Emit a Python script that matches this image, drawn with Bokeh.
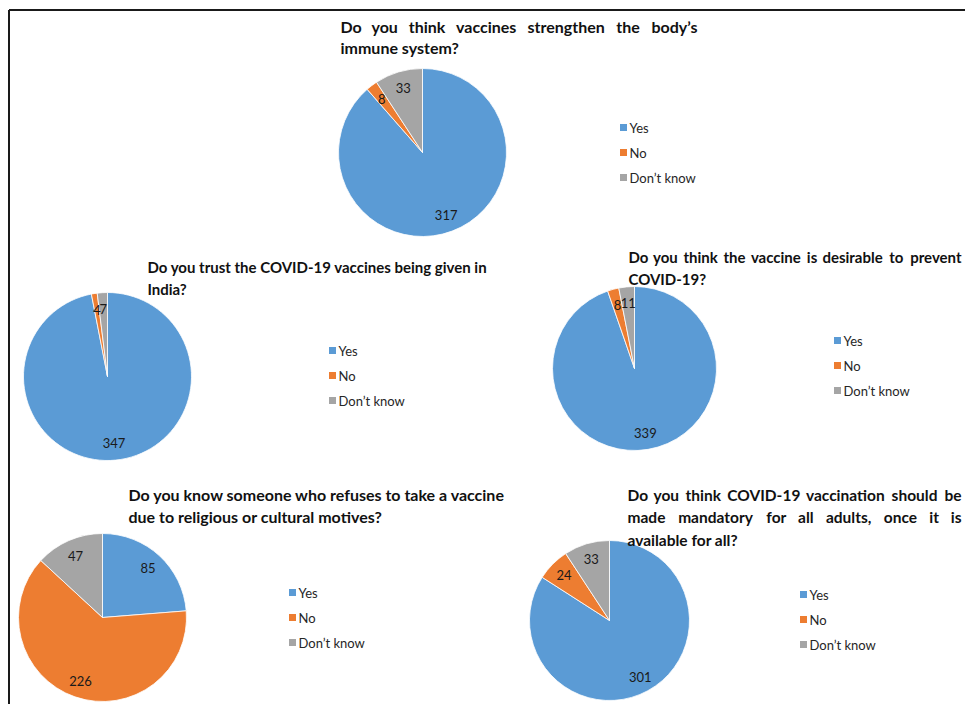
import math
from bokeh.plotting import figure
from bokeh.models import Range1d, ColumnDataSource
from bokeh.core.properties import value
from bokeh.embed import file_html
from bokeh.resources import INLINE

# ---------------- data ----------------
categories = ["Yes", "No", "Don\u2019t know"]

q1_values = [317, 8, 33]
q2_values = [347, 4, 7]
q3_values = [339, 8, 11]
q4_values = [85, 226, 47]
q5_values = [301, 24, 33]

q1_title = ["Do you think vaccines strengthen the body\u2019s", "immune system?"]
q2_title = ["Do you trust the COVID-19  vaccines being given in", "India?"]
q3_title = ["Do you think the vaccine is desirable to prevent", "COVID-19?"]
q4_title = ["Do you know someone who refuses to take a vaccine",
            "due to religious or cultural motives?"]
q5_title = ["Do you think COVID-19 vaccination should be",
            "made mandatory for all adults, once it is",
            "available for all?"]

all_values = [q1_values, q2_values, q3_values, q4_values, q5_values]
all_titles = [q1_title, q2_title, q3_title, q4_title, q5_title]

# ---------------- style / layout ----------------
COLORS = ["#5B9BD5", "#ED7D31", "#A5A5A5"]
W, H = 965, 704
FONT = "Lato"


def X(px):
    return px


def Y(py):
    return H - py


# page-pixel layout of each panel
LAYOUT = [
    dict(c=(422, 152), r=84, tx=340, ty=26, gap=21, tend=697, fs=16, leg=(623, 127)),
    dict(c=(107, 376), r=84, tx=147, ty=266, gap=22, tend=None, fs=15, leg=(332, 350)),
    dict(c=(634, 368), r=82, tx=628, ty=256, gap=22, tend=961, fs=15, leg=(837, 340)),
    dict(c=(102, 617), r=84, tx=128, ty=494, gap=22, tend=None, fs=16, leg=(292, 592)),
    dict(c=(609, 620), r=80, tx=627, ty=494, gap=22.5, tend=961, fs=15.5, leg=(803, 594)),
]
LEG_GAP = 25
JUSTIFIED = {(0, 0), (2, 0), (4, 0), (4, 1)}

# rough advance widths (em) of Lato Bold, used only to spread justified words
_CW = {'a': .51, 'b': .56, 'c': .46, 'd': .56, 'e': .53, 'f': .33, 'g': .50, 'h': .56,
       'i': .25, 'k': .52, 'l': .25, 'm': .84, 'n': .56, 'o': .56, 'p': .56, 'r': .37,
       's': .43, 't': .36, 'u': .56, 'v': .52, 'y': .52, 'w': .79, 'D': .70, 'C': .64,
       'O': .75, 'V': .68, 'I': .28, '-': .35, ',': .23, '\u2019': .23, '?': .43}


def word_w(w, fs):
    return sum(_CW.get(ch, .58) for ch in w) * fs * 1.03


p = figure(width=W, height=H, x_range=Range1d(0, W), y_range=Range1d(0, H),
           output_backend="svg", toolbar_location=None,
           x_axis_location=None, y_axis_location=None, min_border=0)
p.grid.visible = False
p.outline_line_color = None
p.background_fill_color = "white"
p.border_fill_color = "white"

# frame lines (top and left)
p.segment(x0=[X(8.5), X(8.5)], y0=[Y(9.5), Y(9.5)], x1=[X(980), X(8.5)], y1=[Y(9.5), Y(760)],
          line_color="#1a1a1a", line_width=2)

for i, (vals, title) in enumerate(zip(all_values, all_titles)):
    lay = LAYOUT[i]
    cx, cy = lay["c"]
    r = lay["r"]
    total = float(sum(vals))
    starts, ends, lx, ly = [], [], [], []
    cum = 0.0
    for v in vals:
        a0 = math.pi / 2 - 2 * math.pi * cum / total
        a1 = math.pi / 2 - 2 * math.pi * (cum + v) / total
        starts.append(a0)
        ends.append(a1)
        mid = (a0 + a1) / 2
        lx.append(X(cx) + 0.8 * r * math.cos(mid))
        ly.append(Y(cy) + 0.8 * r * math.sin(mid))
        cum += v
    src = ColumnDataSource(dict(x=[X(cx)] * 3, y=[Y(cy)] * 3, start=starts, end=ends,
                                color=COLORS, cat=categories, val=vals,
                                lx=lx, ly=ly, lab=[str(v) for v in vals]))
    p.wedge(x="x", y="y", radius=r, start_angle="start", end_angle="end",
            direction="clock", fill_color="color", line_color="white",
            line_width=0.8, source=src)
    p.text(x="lx", y="ly", text="lab", source=src, text_align="center",
           text_baseline="middle", text_font=value(FONT), text_font_size="13px",
           text_color="#1a1a1a")

    # title
    fs = lay["fs"]
    for j, line in enumerate(title):
        yy = Y(lay["ty"] + j * lay["gap"])
        if (i, j) in JUSTIFIED:
            words = line.split()
            widths = [word_w(w, fs) for w in words]
            span = lay["tend"] - lay["tx"]
            gap = (span - sum(widths)) / (len(words) - 1)
            xs, aligns = [], []
            pos = lay["tx"]
            for k, w in enumerate(words):
                if k == len(words) - 1:
                    xs.append(X(lay["tend"]))
                    aligns.append("right")
                else:
                    xs.append(X(pos))
                    aligns.append("left")
                pos += widths[k] + gap
            p.text(x=xs, y=[yy] * len(words), text=words, text_align=aligns,
                   text_baseline="middle", text_font=value(FONT),
                   text_font_size=f"{fs}px", text_font_style="bold", text_color="#111111")
        else:
            p.text(x=[X(lay["tx"])], y=[yy], text=[line], text_align="left",
                   text_baseline="middle", text_font=value(FONT),
                   text_font_size=f"{fs}px", text_font_style="bold", text_color="#111111")

    # legend
    gx, gy = lay["leg"]
    leg_y = [Y(gy + k * LEG_GAP) for k in range(len(categories))]
    p.scatter(x=[X(gx)] * 3, y=leg_y, marker="square", size=7,
              fill_color=COLORS, line_color=None)
    p.text(x=[X(gx) + 6] * 3, y=leg_y, text=categories, text_align="left",
           text_baseline="middle", text_font=value(FONT), text_font_size="13px",
           text_color="#262626")

open("out.html", "w").write(file_html(p, INLINE))
